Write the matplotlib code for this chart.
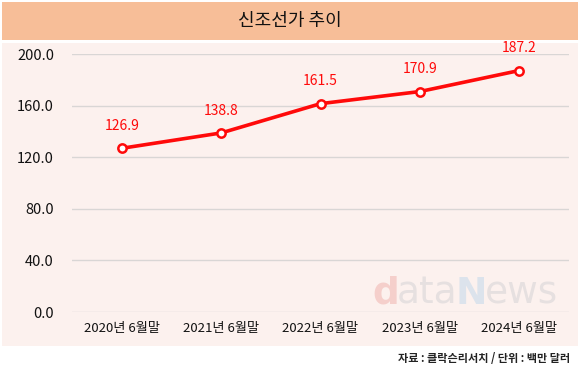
import matplotlib.pyplot as plt
from matplotlib.patches import Rectangle

plt.rcParams["font.family"] = ["Noto Sans CJK KR", "DejaVu Sans"]

TITLE = "신조선가 추이"
SOURCE = "자료 : 클락슨리서치 / 단위 : 백만 달러"
CATEGORIES = ["2020년 6월말", "2021년 6월말", "2022년 6월말", "2023년 6월말", "2024년 6월말"]
VALUES = [126.9, 138.8, 161.5, 170.9, 187.2]
YTICKS = [0, 40, 80, 120, 160, 200]

RED = "#FF0A0A"
W, H = 580, 375

fig = plt.figure(figsize=(W / 100, H / 100), dpi=100)
fig.patch.set_facecolor("white")

# header band and plot panel
fig.patches.append(Rectangle((2 / W, 1 - 40 / H), 576 / W, 38 / H,
                             transform=fig.transFigure, facecolor="#F7BE98",
                             edgecolor="none", zorder=-10))
fig.patches.append(Rectangle((2 / W, 1 - 346 / H), 576 / W, 303 / H,
                             transform=fig.transFigure, facecolor="#FCF1EE",
                             edgecolor="none", zorder=-10))
fig.text(0.5, 1 - 21 / H, TITLE, ha="center", va="center", fontsize=13, color="#111111")
fig.text(570 / W, 1 - 358 / H, SOURCE, ha="right", va="center", fontsize=8,
         fontweight="bold", color="#222222")

ax = fig.add_axes([72 / W, 1 - 312 / H, 497 / W, 258 / H])
ax.set_facecolor("none")
ax.set_zorder(2)
x = list(range(len(CATEGORIES)))

# faint watermark
wm = [("d", "#F5CFCB", "bold"), ("ata", "#E6E0E0", "normal"),
      ("N", "#DCE3EC", "bold"), ("ews", "#E6E0E0", "normal")]
xpos = 372
for s, c, fw in wm:
    txt = fig.text(xpos / W, 1 - 304 / H, s, fontsize=27, color=c, fontweight=fw,
                   family="DejaVu Sans", zorder=1)
    fig.canvas.draw()
    xpos += txt.get_window_extent().width - 2

for yv in YTICKS:
    ax.axhline(yv, color="#D9D6D5", linewidth=1.0, zorder=1)

ax.plot(x, VALUES, color=RED, linewidth=2.6, marker="o", markersize=6,
        markerfacecolor="white", markeredgecolor=RED, markeredgewidth=1.8, zorder=3)
for xi, v in zip(x, VALUES):
    ax.annotate(f"{v:.1f}", (xi, v), xytext=(0, 11), textcoords="offset points",
                ha="center", va="bottom", fontsize=10, color=RED)

ax.set_xlim(-0.5, 4.5)
ax.set_ylim(0, 200)
ax.set_yticks(YTICKS)
ax.set_yticklabels([f"{v:.1f}" for v in YTICKS], fontsize=10.5, color="#111111")
ax.set_xticks(x)
ax.set_xticklabels(CATEGORIES, fontsize=9.5, color="#111111")
ax.tick_params(axis="both", length=0)
ax.tick_params(axis="y", pad=13)
ax.tick_params(axis="x", pad=7)
for sp in ax.spines.values():
    sp.set_visible(False)

fig.savefig("out.png", dpi=100)
